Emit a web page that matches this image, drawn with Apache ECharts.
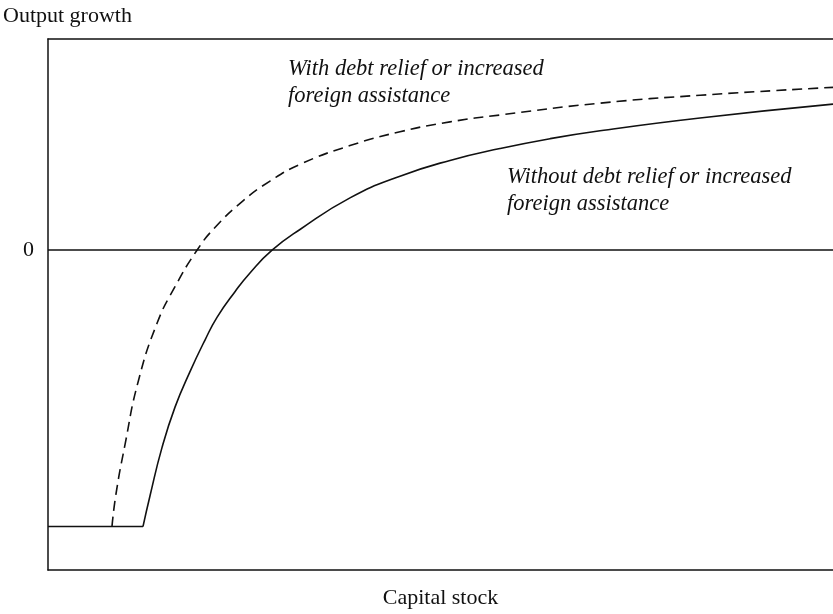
<!DOCTYPE html>
<html>
<head>
<meta charset="utf-8">
<script src="https://cdn.jsdelivr.net/npm/echarts@6/dist/echarts.min.js"></script>
<style>
html,body{margin:0;padding:0;background:#fff;}
#c{width:833px;height:614px;}
</style>
</head>
<body>
<div id="c"></div>
<script>
// Capital stock (arbitrary units 0..100) and output growth (0 = zero growth)
var floorX = [0, 12.10];
var floorY = [-2.80, -2.80];

var withoutX = [12.10, 12.99, 14.52, 16.18, 18.09, 20.00, 21.53, 23.82, 25.73, 28.54, 32.10, 38.47, 44.84, 51.21, 57.58, 63.95, 70.32, 83.06, 100];
var withoutY = [-2.80, -2.49, -2.00, -1.59, -1.23, -0.91, -0.68, -0.42, -0.23, 0.00, 0.21, 0.53, 0.75, 0.91, 1.03, 1.13, 1.21, 1.34, 1.48];

var withX = [8.15, 8.66, 9.81, 11.46, 13.89, 16.18, 18.98, 21.27, 24.84, 28.28, 32.10, 38.47, 44.84, 51.21, 57.58, 70.32, 83.06, 100];
var withY = [-2.80, -2.47, -1.97, -1.34, -0.74, -0.37, 0.00, 0.23, 0.50, 0.70, 0.87, 1.06, 1.20, 1.30, 1.37, 1.49, 1.57, 1.65];

var yTickLabels = [0];
var labelWith = ['With debt relief or increased', 'foreign assistance'];
var labelWithout = ['Without debt relief or increased', 'foreign assistance'];

function zip(a, b) { return a.map(function (v, i) { return [v, b[i]]; }); }

var FONT = "'Liberation Serif','Times New Roman',serif";
var LINE = {show: true, onZero: false, lineStyle: {color: '#111', width: 1.5}};
var chart = echarts.init(document.getElementById('c'), null, {renderer: 'canvas'});
chart.setOption({
  animation: false,
  backgroundColor: '#fff',
  title: {
    text: 'Output growth',
    left: 3, top: 5, padding: 0,
    textStyle: {fontFamily: FONT, fontSize: 22, fontWeight: 'normal', color: '#111'}
  },
  grid: {left: 48, right: 0, top: 39, bottom: 37, show: false},
  xAxis: [{
    type: 'value', min: 0, max: 100, position: 'bottom',
    name: 'Capital stock', nameLocation: 'middle', nameGap: 17,
    nameTextStyle: {fontFamily: FONT, fontSize: 22, color: '#111'},
    axisLine: LINE, axisTick: {show: false}, axisLabel: {show: false}, splitLine: {show: false}
  }, {
    type: 'value', min: 0, max: 100, position: 'top',
    axisLine: LINE, axisTick: {show: false}, axisLabel: {show: false}, splitLine: {show: false}
  }],
  yAxis: {
    type: 'value', min: -3.24, max: 2.14,
    axisLine: LINE, axisTick: {show: false}, splitLine: {show: false},
    axisLabel: {customValues: yTickLabels, margin: 14, fontFamily: FONT, fontSize: 22, color: '#111'}
  },
  graphic: [
    {type: 'text', left: 288, top: 56, style: {text: labelWith.join('\n'), font: 'italic 22.5px ' + FONT, fill: '#111', lineHeight: 27}},
    {type: 'text', left: 507, top: 164, style: {text: labelWithout.join('\n'), font: 'italic 22.5px ' + FONT, fill: '#111', lineHeight: 27}}
  ],
  series: [
    {
      type: 'line', data: zip(floorX, floorY), symbol: 'none',
      lineStyle: {color: '#111', width: 1.5}, silent: true,
      markLine: {
        silent: true, symbol: ['none', 'none'],
        lineStyle: {color: '#111', width: 1.5, type: 'solid'},
        label: {show: false},
        data: [{yAxis: 0}]
      }
    },
    {
      type: 'line', data: zip(withoutX, withoutY), symbol: 'none', smooth: 0.5,
      lineStyle: {color: '#111', width: 1.6}
    },
    {
      type: 'line', data: zip(withX, withY), symbol: 'none', smooth: 0.5,
      lineStyle: {color: '#111', width: 1.6, type: [10, 6]}
    }
  ]
});
</script>
</body>
</html>
